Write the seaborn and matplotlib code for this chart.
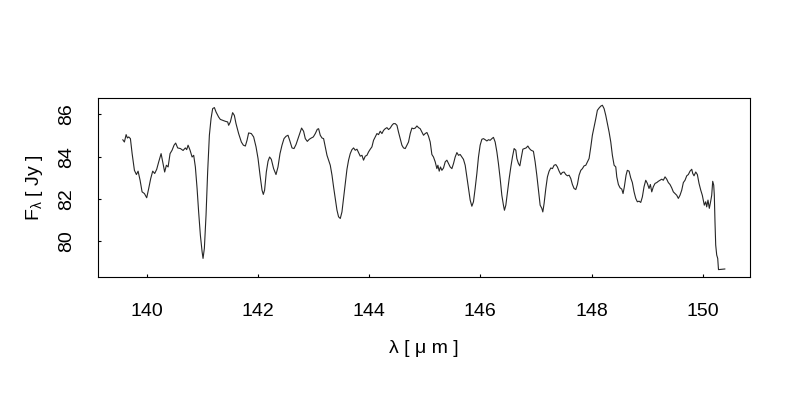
import matplotlib
matplotlib.use("Agg")
import matplotlib.pyplot as plt
import pandas as pd
import seaborn as sns

# spectrum
wavelength = [
    139.569, 139.599, 139.630, 139.653, 139.677, 139.707, 139.738, 139.779, 139.815, 139.845,
    139.881, 139.917, 139.959, 140.000, 140.036, 140.072, 140.108, 140.144, 140.180, 140.216,
    140.259, 140.288, 140.323, 140.354, 140.385, 140.420, 140.456, 140.492, 140.521, 140.557,
    140.606, 140.654, 140.695, 140.719, 140.744, 140.780, 140.816, 140.845, 140.875, 140.906,
    140.934, 140.965, 140.996, 141.013, 141.037, 141.067, 141.096, 141.127, 141.157, 141.186,
    141.217, 141.247, 141.294,
    141.324, 141.366, 141.414, 141.456, 141.474, 141.504, 141.545, 141.576, 141.606, 141.653,
    141.702, 141.738, 141.774, 141.804, 141.833, 141.881, 141.923, 141.966, 142.002, 142.038,
    142.074, 142.097, 142.120, 142.151, 142.182, 142.210, 142.241, 142.282, 142.325, 142.361,
    142.397, 142.433, 142.469, 142.505, 142.541, 142.577, 142.613, 142.649, 142.685, 142.721,
    142.757, 142.785, 142.821, 142.852, 142.888, 142.924, 142.960, 142.996, 143.032, 143.067,
    143.091, 143.121, 143.152, 143.181, 143.211, 143.242, 143.270, 143.301, 143.332, 143.360,
    143.391, 143.421, 143.450, 143.481, 143.511, 143.540, 143.571, 143.601, 143.630, 143.660,
    143.691, 143.720, 143.750, 143.781, 143.810, 143.840, 143.871, 143.899, 143.930, 143.960,
    143.989, 144.020, 144.050, 144.079, 144.110, 144.140, 144.169, 144.199, 144.230, 144.259,
    144.289, 144.320, 144.349, 144.379, 144.410, 144.438, 144.469, 144.500, 144.528, 144.559,
    144.589, 144.618, 144.649, 144.679, 144.708, 144.739, 144.769, 144.798, 144.829,
    144.859, 144.888, 144.918, 144.949, 144.978, 145.008, 145.039, 145.067, 145.098, 145.128,
    145.157, 145.188, 145.218, 145.236, 145.260, 145.283, 145.308, 145.337, 145.368, 145.398,
    145.427, 145.457, 145.488, 145.517, 145.547, 145.578, 145.607, 145.637, 145.668, 145.696,
    145.727, 145.757, 145.786, 145.817, 145.847, 145.876, 145.906, 145.937, 145.966, 145.996,
    146.027, 146.056, 146.086, 146.117, 146.146, 146.176, 146.207, 146.235, 146.266, 146.297,
    146.325, 146.356, 146.386, 146.415, 146.433, 146.458, 146.487, 146.518, 146.548, 146.577,
    146.607, 146.638,
    146.656, 146.685, 146.710, 146.733, 146.764, 146.793, 146.823, 146.854, 146.882, 146.913,
    146.954, 146.985, 147.015, 147.044, 147.075, 147.105, 147.123, 147.146, 147.177, 147.206,
    147.236, 147.267, 147.296, 147.326, 147.357, 147.385, 147.416, 147.447, 147.475, 147.506,
    147.536, 147.565, 147.596, 147.626, 147.655, 147.685, 147.716, 147.745, 147.775, 147.806,
    147.835, 147.865, 147.896, 147.925, 147.955, 147.986, 148.014, 148.045, 148.076, 148.104,
    148.135, 148.166, 148.194, 148.225, 148.255, 148.284, 148.315, 148.345, 148.374, 148.405,
    148.435,
    148.453, 148.482, 148.512, 148.543, 148.566, 148.589, 148.620, 148.643, 148.674, 148.704,
    148.733, 148.764, 148.794, 148.823, 148.853, 148.884, 148.913, 148.943, 148.974, 149.003,
    149.033, 149.057, 149.082, 149.110, 149.141, 149.172, 149.200, 149.231, 149.261, 149.290,
    149.321, 149.351, 149.380, 149.410, 149.441, 149.470, 149.500, 149.531, 149.560, 149.590,
    149.621, 149.650, 149.680, 149.711, 149.740, 149.770, 149.801, 149.819, 149.842, 149.873,
    149.902, 149.932, 149.963, 149.991, 150.009, 150.027, 150.052, 150.070, 150.093, 150.117,
    150.142, 150.160, 150.178, 150.196, 150.207, 150.219, 150.232, 150.250, 150.268, 150.282,
    150.399,
]
flux = [
    84.80, 84.69, 85.04, 84.88, 84.93, 84.85, 84.14, 83.35, 83.15, 83.31,
    82.88, 82.33, 82.25, 82.05, 82.49, 82.96, 83.31, 83.20, 83.40, 83.75,
    84.14, 83.75, 83.27, 83.59, 83.51, 84.14, 84.30, 84.54, 84.64, 84.41,
    84.38, 84.29, 84.41, 84.33, 84.54, 84.30, 83.98, 84.06, 83.51, 82.49,
    81.38, 80.28, 79.50, 79.18, 79.66, 81.23, 83.27, 85.01, 85.80, 86.27,
    86.32, 86.11, 85.87,
    85.76, 85.72, 85.67, 85.64, 85.48, 85.64, 86.08, 85.95, 85.56, 85.09,
    84.69, 84.54, 84.50, 84.77, 85.12, 85.09, 84.93, 84.46, 83.91, 83.12,
    82.41, 82.21, 82.41, 83.27, 83.78, 83.98, 83.87, 83.43, 83.15, 83.51,
    84.14, 84.54, 84.85, 84.96, 85.01, 84.72, 84.41, 84.38, 84.57, 84.85,
    85.14, 85.35, 85.20, 84.85, 84.72, 84.82, 84.88, 84.93, 85.09, 85.29,
    85.32, 85.01, 84.88, 84.85, 84.46, 84.06, 83.83, 83.59, 83.12, 82.57,
    82.02, 81.47, 81.15, 81.07, 81.38, 82.02, 82.73, 83.40, 83.83, 84.14,
    84.33, 84.41, 84.30, 84.35, 84.19, 84.02, 84.06, 83.83, 84.02, 84.06,
    84.22, 84.35, 84.46, 84.77, 84.93, 85.09, 85.04, 85.20, 85.09, 85.24,
    85.32, 85.37, 85.28, 85.35, 85.48, 85.56, 85.56, 85.48, 85.16, 84.85,
    84.54, 84.41, 84.38, 84.54, 84.69, 85.09, 85.35, 85.32, 85.35,
    85.45, 85.37, 85.32, 85.16, 85.01, 85.09, 85.14, 84.97, 84.69, 84.10,
    83.98, 83.75, 83.43, 83.59, 83.31, 83.51, 83.35, 83.46, 83.75, 83.83,
    83.67, 83.51, 83.43, 83.67, 83.98, 84.19, 84.06, 84.10, 83.98, 83.87,
    83.59, 83.04, 82.49, 81.94, 81.65, 81.86, 82.49, 83.20, 83.98, 84.54,
    84.82, 84.85, 84.80, 84.74, 84.80, 84.77, 84.85, 84.91, 84.69, 84.22,
    83.67, 82.96, 82.17, 81.70, 81.46, 81.70, 82.33, 82.96, 83.51, 83.98,
    84.38, 84.30,
    83.91, 83.67, 83.56, 83.91, 84.35, 84.38, 84.41, 84.50, 84.38, 84.30,
    84.25, 83.75, 83.12, 82.41, 81.70, 81.55, 81.38, 81.78, 82.49, 83.04,
    83.31, 83.46, 83.43, 83.59, 83.62, 83.51, 83.31, 83.15, 83.25, 83.27,
    83.15, 83.09, 83.12, 82.96, 82.68, 82.49, 82.44, 82.68, 83.12, 83.35,
    83.43, 83.56, 83.59, 83.75, 83.91, 84.46, 85.01, 85.40, 85.80, 86.19,
    86.30, 86.39, 86.43, 86.27, 85.95, 85.56, 85.16, 84.69, 84.06, 83.59,
    83.51,
    83.04, 82.68, 82.52, 82.46, 82.25, 82.57, 83.12, 83.35, 83.31, 82.99,
    82.77, 82.33, 82.02, 81.86, 81.89, 81.83, 82.09, 82.57, 82.88, 82.73,
    82.49, 82.68, 82.33, 82.57, 82.73, 82.77, 82.83, 82.88, 82.93, 82.88,
    83.04, 82.93, 82.77, 82.68, 82.52, 82.33, 82.25, 82.17, 82.02, 82.17,
    82.41, 82.77, 82.88, 83.09, 83.15, 83.31, 83.40, 83.20, 83.09, 83.27,
    83.15, 82.73, 82.41, 82.17, 81.94, 81.70, 81.86, 81.62, 81.94, 81.55,
    81.89, 82.17, 82.83, 82.65, 82.17, 80.91, 79.81, 79.34, 79.18, 78.65,
    78.68,
]
x_ticks = [140, 142, 144, 146, 148, 150]
y_ticks = [80, 82, 84, 86]

assert len(wavelength) == len(flux)
df = pd.DataFrame({"wavelength": wavelength, "flux": flux})

sns.set_style("ticks")
plt.rcParams["font.family"] = ["Liberation Sans", "DejaVu Sans"]
plt.rcParams["mathtext.fontset"] = "custom"
plt.rcParams["mathtext.rm"] = "Liberation Sans"
plt.rcParams["text.color"] = "black"
plt.rcParams["axes.labelcolor"] = "black"
plt.rcParams["xtick.color"] = "black"
plt.rcParams["ytick.color"] = "black"

fig = plt.figure(figsize=(8, 4), dpi=100)
ax = fig.add_axes([0.1229, 0.3075, 0.814, 0.4468])
sns.lineplot(data=df, x="wavelength", y="flux", estimator=None, sort=False,
             color="#262626", linewidth=0.8, ax=ax)

ax.set_xlim(139.13, 150.84)
ax.set_ylim(78.30, 86.76)
ax.set_xticks(x_ticks)
ax.set_yticks(y_ticks)
ax.set_yticklabels([str(v) for v in y_ticks], rotation=90, va="center")
ax.tick_params(direction="in", length=2.5, width=0.8, labelsize=14,
               color="black", labelcolor="black")
ax.tick_params(axis="x", pad=19)
ax.tick_params(axis="y", pad=17)
for side in ["top", "right", "bottom", "left"]:
    ax.spines[side].set_visible(True)
    ax.spines[side].set_linewidth(0.8)
    ax.spines[side].set_color("black")

ax.set_xlabel("λ [ μ m ]", fontsize=14, va="center", color="black")
ax.set_ylabel(r"F$_\mathregular{λ}$ [ Jy ]", fontsize=14, va="center", color="black")
ax.xaxis.set_label_coords(0.5, -0.402)
ax.yaxis.set_label_coords(-0.098, 0.5)

fig.savefig("out.png", dpi=100)
